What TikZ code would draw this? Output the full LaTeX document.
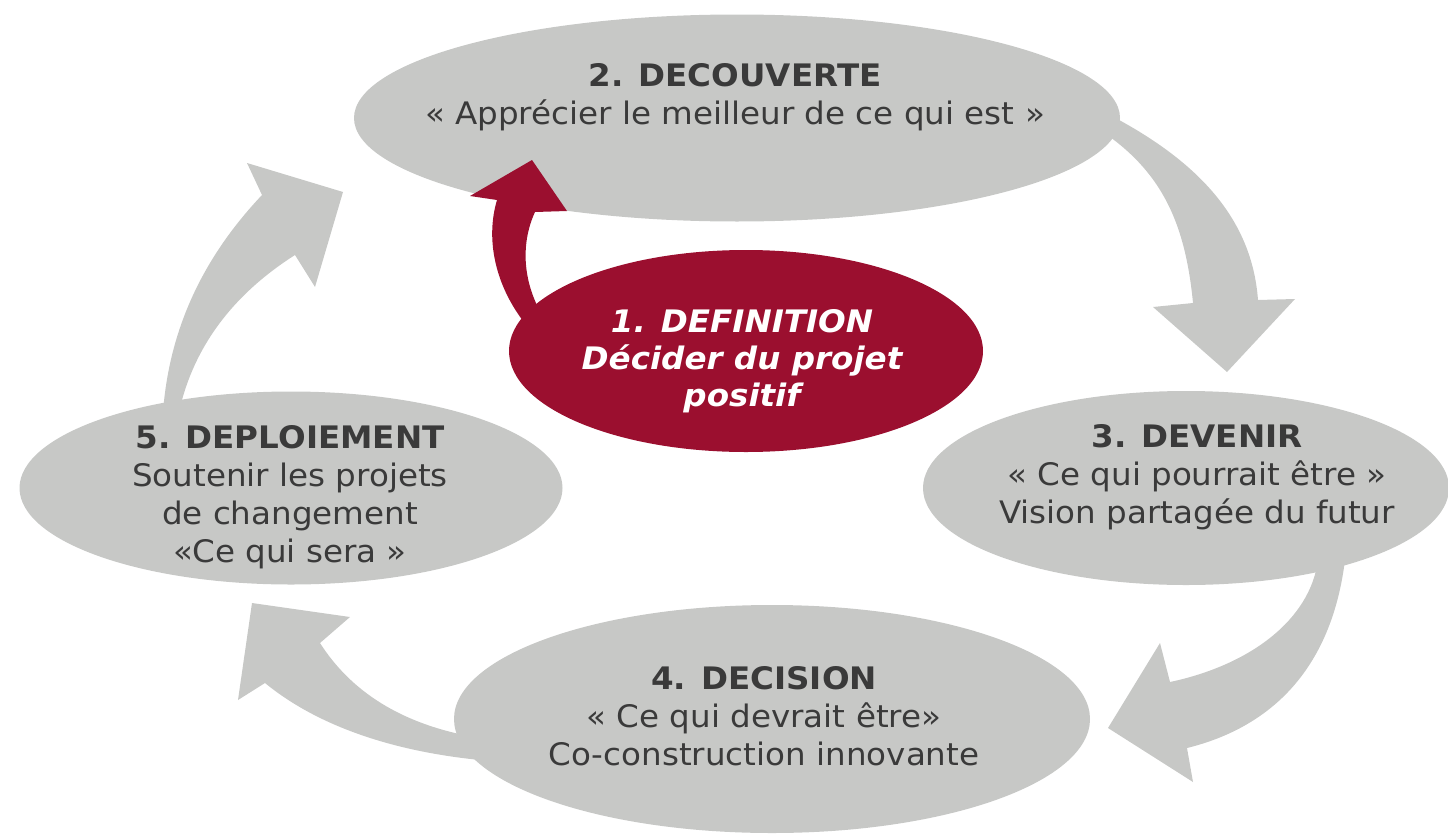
\documentclass[tikz,border=0pt]{standalone}
\usepackage{fontspec}
\setmainfont{DejaVu Sans}[FakeStretch=1.05,BoldFont={DejaVu Sans Bold},ItalicFont={DejaVu Sans Oblique},BoldItalicFont={DejaVu Sans Bold Oblique}]
\usetikzlibrary{shapes.geometric}
\definecolor{grayfill}{HTML}{C7C8C6}
\definecolor{redfill}{HTML}{9B0F2F}
\definecolor{txtgray}{HTML}{3A3A3A}
\begin{document}
\begin{tikzpicture}[x=1pt,y=-1pt,
  phase/.style={ellipse, fill=grayfill, inner sep=0pt},
  redphase/.style={ellipse, fill=redfill, inner sep=0pt},
  lbl/.style={align=center, text=txtgray, font=\fontsize{31}{38}\selectfont},
  redlbl/.style={align=center, text=white, font=\fontsize{31}{37}\selectfont\bfseries\itshape},
  grayarrow/.style={fill=grayfill},
  redarrow/.style={fill=redfill}]
\useasboundingbox (0,0) rectangle (1448,835);
% gray arrows
\fill[grayarrow] (1100,110) .. controls (1200,160) and (1252,220) .. (1258,300)
  -- (1295,299) -- (1227,372) -- (1153,307) -- (1193,303)
  .. controls (1185,220) and (1160,170) .. (1100,130) -- cycle;
\fill[grayarrow] (1345,560) .. controls (1330,680) and (1260,730) .. (1187,748)
  -- (1193,782) -- (1108,728) -- (1160,643) -- (1170,682)
  .. controls (1250,665) and (1310,620) .. (1318,560) -- cycle;
\fill[grayarrow] (480,760) .. controls (380,750) and (310,720) .. (265,683)
  -- (238,700) -- (252,603) -- (350,617) -- (320,643)
  .. controls (350,690) and (400,725) .. (480,738) -- cycle;
\fill[grayarrow] (163,412) .. controls (170,320) and (210,250) .. (262,195)
  -- (247,163) -- (343,192) -- (315,287) -- (295,255)
  .. controls (240,290) and (195,340) .. (179,412) -- cycle;
% gray ellipses
\node[phase, minimum width=766pt, minimum height=207pt] (p2) at (737,118) {};
\node[phase, minimum width=526pt, minimum height=194pt] (p3) at (1186,488) {};
\node[phase, minimum width=636pt, minimum height=228pt] (p4) at (772,719) {};
\node[phase, minimum width=543pt, minimum height=193pt] (p5) at (291,488) {};
% red arrow and ellipse
\fill[redarrow] (532,332) .. controls (495,290) and (485,240) .. (497,200)
  -- (470,196) -- (532,160) -- (567,211) -- (535,212)
  .. controls (522,240) and (520,280) .. (545,320) -- cycle;
\node[redphase, minimum width=474pt, minimum height=202pt] (p1) at (746,351) {};
% texts
\node[lbl] (t2) at (735,97) {\textbf{2. DECOUVERTE}\\« Apprécier le meilleur de ce qui est »};
\node[lbl] (t3) at (1197,477) {\textbf{3. DEVENIR}\\« Ce qui pourrait être »\\Vision partagée du futur};
\node[lbl] (t4) at (764,716) {\textbf{4. DECISION}\\« Ce qui devrait être»\\Co-construction innovante};
\node[lbl] (t5) at (290,497) {\textbf{5. DEPLOIEMENT}\\Soutenir les projets\\de changement\\«Ce qui sera »};
\node[redlbl] (t1) at (742,361) {1. DEFINITION\\Décider du projet\\positif};
\end{tikzpicture}
\end{document}
